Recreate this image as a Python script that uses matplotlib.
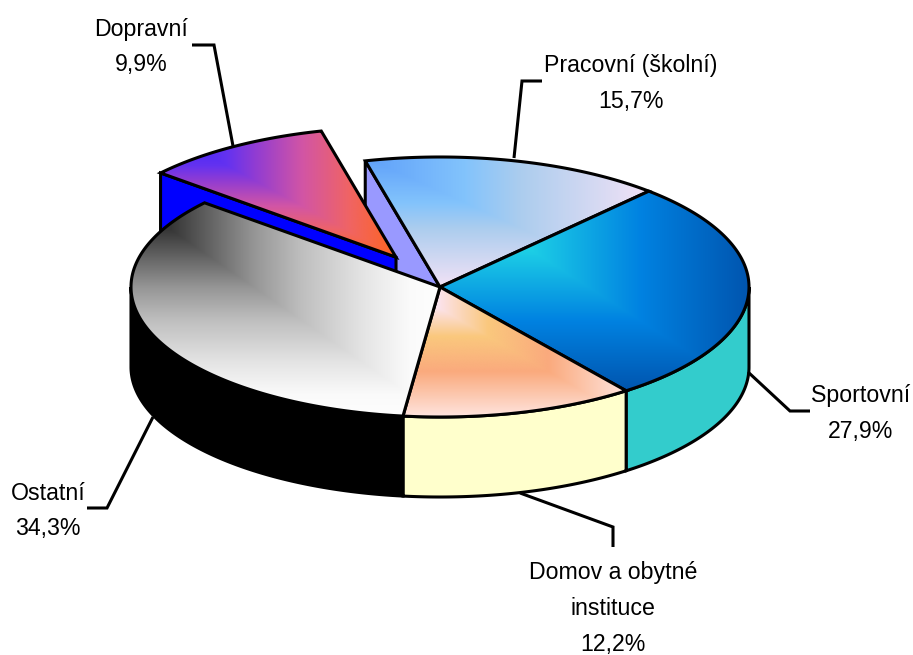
import numpy as np
import matplotlib
matplotlib.use("Agg")
import matplotlib.pyplot as plt
from matplotlib.patches import Polygon
from matplotlib.colors import LinearSegmentedColormap

# --- data ---
names = ["Pracovní (školní)", "Sportovní", "Domov a obytné\ninstituce", "Ostatní", "Dopravní"]
shares = [15.7, 27.9, 12.2, 34.3, 9.9]
explode = [0, 0, 0, 0, 0.27]
share_text = ["15,7%", "27,9%", "12,2%", "34,3%", "9,9%"]

# --- style ---
side_colors = ["#9999FF", "#33CCCC", "#FFFFCC", "#000000", "#0000FF"]
gradients = [
    [(0, (95, 160, 250)), (.35, (130, 195, 252)), (.55, (172, 205, 238)), (1, (242, 226, 246))],
    [(0, (35, 220, 235)), (.28, (30, 210, 230)), (.65, (0, 130, 225)), (1, (0, 85, 175))],
    [(0, (255, 235, 255)), (.15, (252, 228, 240)), (.38, (250, 200, 125)), (.65, (250, 170, 125)), (1, (255, 228, 222))],
    [(0, (25, 25, 25)), (.13, (55, 55, 55)), (.2, (80, 80, 80)), (.4, (150, 150, 150)), (.55, (190, 190, 190)),
     (.75, (228, 228, 228)), (.9, (250, 250, 250)), (1, (254, 254, 254))],
    [(0, (50, 30, 255)), (.28, (100, 50, 240)), (.4, (145, 60, 210)), (.6, (210, 85, 165)), (.8, (240, 100, 100)), (1, (255, 100, 30))],
]
CX, CY, RX, RY, DEPTH = 440, 287, 309, 130, 80
START = 104.0
LW = 2.2
FONT = ["Liberation Sans", "DejaVu Sans"]
FS = 16.7

fig = plt.figure(figsize=(9.13, 6.55), dpi=100, facecolor="white")
ax = fig.add_axes([0, 0, 1, 1])
ax.set_xlim(0, 913)
ax.set_ylim(655, 0)
ax.axis("off")
ax.set_autoscale_on(False)

# angle bounds (clockwise from START)
fr = np.array(shares) / sum(shares) * 360
t0 = START - np.concatenate([[0], np.cumsum(fr)[:-1]])
t1 = t0 - fr


def centre(i):
    mid = np.radians((t0[i] + t1[i]) / 2)
    k = explode[i]
    return CX + k * RX * np.cos(mid), CY - k * RY * np.sin(mid)


def arc(i, a, b, dy=0):
    cx, cy = centre(i)
    t = np.radians(np.linspace(a, b, 200))
    return np.column_stack([cx + RX * np.cos(t), cy - RY * np.sin(t) + dy])


def top_poly(i):
    return np.vstack([[centre(i)], arc(i, t0[i], t1[i])])


def draw_top(i, z):
    p = top_poly(i)
    x0, y0 = p.min(axis=0)
    x1, y1 = p.max(axis=0)
    xs = np.linspace(0, 1, 400)
    ys = np.linspace(0, 1, 300)
    X, Y = np.meshgrid(xs, ys)
    T = np.maximum(X, Y)
    cmap = LinearSegmentedColormap.from_list(
        "g", [(s, tuple(c / 255 for c in col)) for s, col in gradients[i]], N=512)
    im = ax.imshow(T, cmap=cmap, vmin=0, vmax=1, extent=(x0, x1, y1, y0),
                   origin="upper", aspect="auto", interpolation="bilinear", zorder=z)
    patch = Polygon(p, closed=True, fc="none", ec="black", lw=LW, joinstyle="miter", zorder=z + .1)
    ax.add_patch(patch)
    im.set_clip_path(patch)


def draw_wall_radial(i, angle, z):
    cx, cy = centre(i)
    e = arc(i, angle, angle, 0)[0]
    poly = [(cx, cy), tuple(e), (e[0], e[1] + DEPTH), (cx, cy + DEPTH)]
    ax.add_patch(Polygon(poly, closed=True, fc=side_colors[i], ec="black", lw=LW, joinstyle="miter", zorder=z))


def draw_side(i, a, b, z):
    top = arc(i, a, b)
    bot = arc(i, a, b, DEPTH)[::-1]
    ax.add_patch(Polygon(np.vstack([top, bot]), closed=True, fc=side_colors[i], ec="black",
                         lw=LW, joinstyle="miter", zorder=z))


# back walls, then exploded slice, then body
draw_wall_radial(0, t0[0], 1)
draw_wall_radial(4, t0[4], 2)
draw_top(4, 3)
draw_side(1, 0, t1[1], 4)
draw_side(2, t0[2], t1[2], 4)
draw_side(3, t0[3], -180, 4)
for i in range(4):
    draw_top(i, 5 + i * 0.2)

# --- labels: one text per line, placed on its baseline ---
label_x = [631, 861, 613, 48, 141]
label_baselines = [[72, 108], [402, 438], [579, 615, 651], [500, 535], [36, 71]]
for n, s, x, bases in zip(names, share_text, label_x, label_baselines):
    for line, y in zip(n.split("\n") + [s], bases):
        ax.text(x, y, line, ha="center", va="baseline", family=FONT, fontsize=FS,
                color="black", zorder=10)

leaders = [
    [(542, 81), (522, 81), (514, 158)],
    [(748, 372), (790, 411), (810, 411)],
    [(520, 493), (613, 527), (613, 547)],
    [(153, 417), (107, 508), (87, 508)],
    [(192, 45), (214, 45), (233, 146)],
]
for pts in leaders:
    xs, ys = zip(*pts)
    ax.plot(xs, ys, color="black", lw=LW, solid_joinstyle="miter", solid_capstyle="butt", zorder=9)

fig.savefig("out.png", dpi=100, facecolor="white")
